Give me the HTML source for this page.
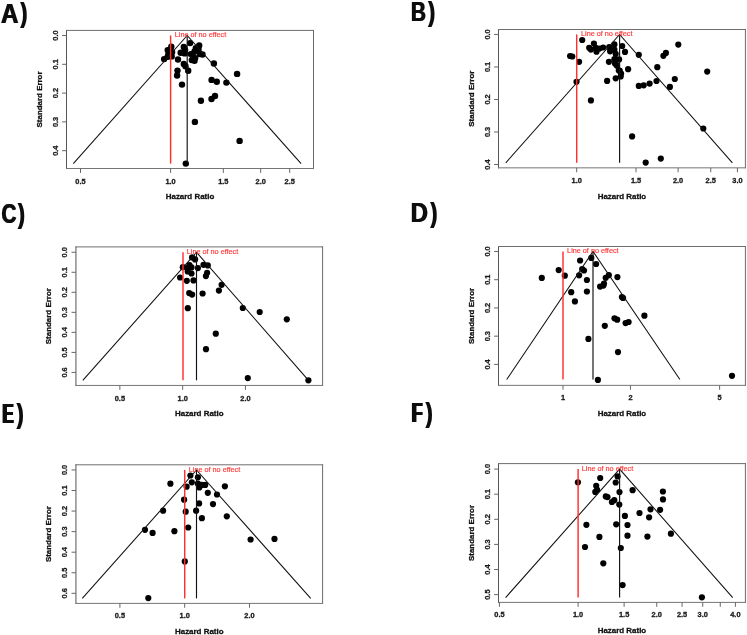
<!DOCTYPE html>
<html><head><meta charset="utf-8"><title>Funnel plots</title>
<style>
html,body{margin:0;padding:0;background:#fff;}
body{width:747px;height:635px;overflow:hidden;font-family:"Liberation Sans",sans-serif;}
svg{display:block;position:absolute;left:0;top:0;}
text{font-family:"Liberation Sans",sans-serif;}
.tl{font-size:7.4px;font-weight:bold;fill:#1a1a1a;stroke:#1a1a1a;stroke-width:0.3px;text-anchor:middle;}
.al{font-size:7.95px;font-weight:bold;fill:#111;stroke:#111;stroke-width:0.3px;text-anchor:middle;}
.rt{font-size:7.25px;fill:#ff3535;stroke:#ff3535;stroke-width:0.15px;}
.pl{font-size:27.2px;font-weight:bold;fill:#0a0a0a;}
</style></head><body>
<svg width="747" height="635" viewBox="0 0 747 635" style="will-change:transform">
<defs><filter id="hb2" x="-10%" y="-10%" width="120%" height="120%"><feMorphology operator="dilate" radius="1 0"/></filter><filter id="hb1" x="-10%" y="-10%" width="120%" height="120%"><feOffset in="SourceGraphic" dx="1" dy="0" result="o"/><feMerge><feMergeNode in="SourceGraphic"/><feMergeNode in="o"/></feMerge></filter></defs>
<rect x="0" y="0" width="747" height="635" fill="#ffffff"/>
<g id="panelA">
<g filter="url(#hb1)"><text class="pl" transform="translate(0.42,23.15) scale(0.887,1)" x="0" y="0">A</text></g>
<g filter="url(#hb1)"><text class="pl" transform="translate(20.1,22.35) scale(0.727,1)" x="0" y="0" style="font-size:28.0px">)</text></g>
<path d="M66.5 29.9V169" fill="none" stroke="#555" stroke-width="1"/>
<path d="M66 30.4H314" fill="none" stroke="#6e6e6e" stroke-width="1"/>
<path d="M313.5 29.9V169" fill="none" stroke="#6a6a6a" stroke-width="1"/>
<path d="M66 168.5H314" fill="none" stroke="#757575" stroke-width="1"/>
<line x1="62.1" y1="35.5" x2="66.5" y2="35.5" stroke="#666" stroke-width="1"/>
<text class="tl" transform="translate(58.2,35.5) rotate(-90)">0.0</text>
<line x1="62.1" y1="64.3" x2="66.5" y2="64.3" stroke="#666" stroke-width="1"/>
<text class="tl" transform="translate(58.2,64.3) rotate(-90)">0.1</text>
<line x1="62.1" y1="93.1" x2="66.5" y2="93.1" stroke="#666" stroke-width="1"/>
<text class="tl" transform="translate(58.2,93.1) rotate(-90)">0.2</text>
<line x1="62.1" y1="121.9" x2="66.5" y2="121.9" stroke="#666" stroke-width="1"/>
<text class="tl" transform="translate(58.2,121.9) rotate(-90)">0.3</text>
<line x1="62.1" y1="150.7" x2="66.5" y2="150.7" stroke="#666" stroke-width="1"/>
<text class="tl" transform="translate(58.2,150.7) rotate(-90)">0.4</text>
<line x1="80.5" y1="168.5" x2="80.5" y2="172.9" stroke="#666" stroke-width="1"/>
<text class="tl" x="80.5" y="183.6">0.5</text>
<line x1="170.6" y1="168.5" x2="170.6" y2="172.9" stroke="#666" stroke-width="1"/>
<text class="tl" x="170.6" y="183.6">1.0</text>
<line x1="223.31" y1="168.5" x2="223.31" y2="172.9" stroke="#666" stroke-width="1"/>
<text class="tl" x="223.31" y="183.6">1.5</text>
<line x1="260.7" y1="168.5" x2="260.7" y2="172.9" stroke="#666" stroke-width="1"/>
<text class="tl" x="260.7" y="183.6">2.0</text>
<line x1="289.71" y1="168.5" x2="289.71" y2="172.9" stroke="#666" stroke-width="1"/>
<text class="tl" x="289.71" y="183.6">2.5</text>
<text class="al" x="190" y="198.7">Hazard Ratio</text>
<text class="al" transform="translate(42.2,99.45) rotate(-90)">Standard Error</text>
<circle cx="171.3" cy="46.7" r="3.2" fill="#000"/>
<circle cx="167.7" cy="50.1" r="3.2" fill="#000"/>
<circle cx="172.1" cy="52.1" r="3.2" fill="#000"/>
<circle cx="168.4" cy="54.1" r="3.2" fill="#000"/>
<circle cx="171.7" cy="56.4" r="3.2" fill="#000"/>
<circle cx="164.1" cy="59.1" r="3.2" fill="#000"/>
<circle cx="167.7" cy="56.8" r="3.2" fill="#000"/>
<circle cx="190.1" cy="43.1" r="3.2" fill="#000"/>
<circle cx="183.8" cy="47" r="3.2" fill="#000"/>
<circle cx="185.1" cy="50.1" r="3.2" fill="#000"/>
<circle cx="180.7" cy="52.8" r="3.2" fill="#000"/>
<circle cx="184.7" cy="53.4" r="3.2" fill="#000"/>
<circle cx="178" cy="59.5" r="3.2" fill="#000"/>
<circle cx="183.8" cy="63.9" r="3.2" fill="#000"/>
<circle cx="185.5" cy="66.2" r="3.2" fill="#000"/>
<circle cx="188.2" cy="70.8" r="3.2" fill="#000"/>
<circle cx="177.5" cy="70.6" r="3.2" fill="#000"/>
<circle cx="177.1" cy="75.5" r="3.2" fill="#000"/>
<circle cx="182" cy="84.6" r="3.2" fill="#000"/>
<circle cx="199.2" cy="45.4" r="3.2" fill="#000"/>
<circle cx="195.8" cy="48.1" r="3.2" fill="#000"/>
<circle cx="198.5" cy="49.4" r="3.2" fill="#000"/>
<circle cx="194.5" cy="51.4" r="3.2" fill="#000"/>
<circle cx="202.5" cy="54.5" r="3.2" fill="#000"/>
<circle cx="199.8" cy="54.1" r="3.2" fill="#000"/>
<circle cx="190.9" cy="54.1" r="3.2" fill="#000"/>
<circle cx="193.2" cy="56.8" r="3.2" fill="#000"/>
<circle cx="195.2" cy="58.1" r="3.2" fill="#000"/>
<circle cx="191.8" cy="60.1" r="3.2" fill="#000"/>
<circle cx="194.5" cy="60.8" r="3.2" fill="#000"/>
<circle cx="213.9" cy="63.5" r="3.2" fill="#000"/>
<circle cx="237.1" cy="73.9" r="3.2" fill="#000"/>
<circle cx="211.6" cy="79.9" r="3.2" fill="#000"/>
<circle cx="216.8" cy="81.8" r="3.2" fill="#000"/>
<circle cx="226.4" cy="82.6" r="3.2" fill="#000"/>
<circle cx="200.9" cy="100.7" r="3.2" fill="#000"/>
<circle cx="211.5" cy="99" r="3.2" fill="#000"/>
<circle cx="215" cy="96" r="3.2" fill="#000"/>
<circle cx="194.9" cy="121.9" r="3.2" fill="#000"/>
<circle cx="239.6" cy="140.9" r="3.2" fill="#000"/>
<circle cx="185.8" cy="163.6" r="3.2" fill="#000"/>
<polyline points="73.3,163.6 187.2,35.5 301.1,163.6" fill="none" stroke="#111" stroke-width="1.05"/>
<line x1="187.2" y1="35.5" x2="187.2" y2="163.6" stroke="#111" stroke-width="1.15"/>
<line x1="170.6" y1="35.5" x2="170.6" y2="163.6" stroke="#ff3030" stroke-width="1.45"/>
<text class="rt" x="174.8" y="37.1">Line of no effect</text>
</g>
<g id="panelB">
<g filter="url(#hb1)"><text class="pl" transform="translate(410.56,21.3) scale(0.759,1)" x="0" y="0">B</text></g>
<g filter="url(#hb1)"><text class="pl" transform="translate(427.8,21.3) scale(0.727,1)" x="0" y="0" style="font-size:28.0px">)</text></g>
<path d="M498.5 29V168.35" fill="none" stroke="#555" stroke-width="1"/>
<path d="M498 29.5H745.9" fill="none" stroke="#6e6e6e" stroke-width="1"/>
<path d="M745.4 29V168.35" fill="none" stroke="#6a6a6a" stroke-width="1"/>
<path d="M498 167.85H745.9" fill="none" stroke="#757575" stroke-width="1"/>
<line x1="494.1" y1="34.45" x2="498.5" y2="34.45" stroke="#666" stroke-width="1"/>
<text class="tl" transform="translate(490.1,34.45) rotate(-90)">0.0</text>
<line x1="494.1" y1="66.96" x2="498.5" y2="66.96" stroke="#666" stroke-width="1"/>
<text class="tl" transform="translate(490.1,66.96) rotate(-90)">0.1</text>
<line x1="494.1" y1="99.47" x2="498.5" y2="99.47" stroke="#666" stroke-width="1"/>
<text class="tl" transform="translate(490.1,99.47) rotate(-90)">0.2</text>
<line x1="494.1" y1="131.98" x2="498.5" y2="131.98" stroke="#666" stroke-width="1"/>
<text class="tl" transform="translate(490.1,131.98) rotate(-90)">0.3</text>
<line x1="494.1" y1="164.49" x2="498.5" y2="164.49" stroke="#666" stroke-width="1"/>
<text class="tl" transform="translate(490.1,164.49) rotate(-90)">0.4</text>
<line x1="576.7" y1="167.85" x2="576.7" y2="172.25" stroke="#666" stroke-width="1"/>
<text class="tl" x="576.7" y="182.9">1.0</text>
<line x1="636.02" y1="167.85" x2="636.02" y2="172.25" stroke="#666" stroke-width="1"/>
<text class="tl" x="636.02" y="182.9">1.5</text>
<line x1="678.1" y1="167.85" x2="678.1" y2="172.25" stroke="#666" stroke-width="1"/>
<text class="tl" x="678.1" y="182.9">2.0</text>
<line x1="710.74" y1="167.85" x2="710.74" y2="172.25" stroke="#666" stroke-width="1"/>
<text class="tl" x="710.74" y="182.9">2.5</text>
<line x1="737.42" y1="167.85" x2="737.42" y2="172.25" stroke="#666" stroke-width="1"/>
<text class="tl" x="737.42" y="182.9">3.0</text>
<text class="al" x="621.95" y="198.5">Hazard Ratio</text>
<text class="al" transform="translate(474.4,98.67) rotate(-90)">Standard Error</text>
<circle cx="582.2" cy="40" r="3.1" fill="#000"/>
<circle cx="593.9" cy="43.5" r="3.1" fill="#000"/>
<circle cx="599.4" cy="48.6" r="3.1" fill="#000"/>
<circle cx="589.2" cy="47.8" r="3.1" fill="#000"/>
<circle cx="590.9" cy="49.6" r="3.1" fill="#000"/>
<circle cx="595.8" cy="47.8" r="3.1" fill="#000"/>
<circle cx="596.5" cy="51.7" r="3.1" fill="#000"/>
<circle cx="603.1" cy="47.5" r="3.1" fill="#000"/>
<circle cx="609.2" cy="47" r="3.1" fill="#000"/>
<circle cx="610.1" cy="51.3" r="3.1" fill="#000"/>
<circle cx="614.4" cy="44.4" r="3.1" fill="#000"/>
<circle cx="614.4" cy="49.6" r="3.1" fill="#000"/>
<circle cx="615.7" cy="53.9" r="3.1" fill="#000"/>
<circle cx="570.1" cy="56" r="3.1" fill="#000"/>
<circle cx="572.3" cy="56.5" r="3.1" fill="#000"/>
<circle cx="579.1" cy="61.8" r="3.1" fill="#000"/>
<circle cx="608.9" cy="61.8" r="3.1" fill="#000"/>
<circle cx="614.4" cy="59.2" r="3.1" fill="#000"/>
<circle cx="615" cy="63.5" r="3.1" fill="#000"/>
<circle cx="617" cy="65.6" r="3.1" fill="#000"/>
<circle cx="618.8" cy="70.5" r="3.1" fill="#000"/>
<circle cx="615.7" cy="78.3" r="3.1" fill="#000"/>
<circle cx="607.1" cy="80.9" r="3.1" fill="#000"/>
<circle cx="576.5" cy="81.8" r="3.1" fill="#000"/>
<circle cx="590.9" cy="100.4" r="3.1" fill="#000"/>
<circle cx="622.2" cy="46" r="3.1" fill="#000"/>
<circle cx="625" cy="51.9" r="3.1" fill="#000"/>
<circle cx="619.1" cy="59.4" r="3.1" fill="#000"/>
<circle cx="616.7" cy="65.3" r="3.1" fill="#000"/>
<circle cx="619.7" cy="70.6" r="3.1" fill="#000"/>
<circle cx="621.1" cy="73.5" r="3.1" fill="#000"/>
<circle cx="620.7" cy="76.5" r="3.1" fill="#000"/>
<circle cx="628.1" cy="69.2" r="3.1" fill="#000"/>
<circle cx="638.8" cy="54.8" r="3.1" fill="#000"/>
<circle cx="678.3" cy="44.6" r="3.1" fill="#000"/>
<circle cx="665.9" cy="52.9" r="3.1" fill="#000"/>
<circle cx="663.4" cy="55.8" r="3.1" fill="#000"/>
<circle cx="657.3" cy="67.2" r="3.1" fill="#000"/>
<circle cx="707.2" cy="71.6" r="3.1" fill="#000"/>
<circle cx="674.8" cy="79" r="3.1" fill="#000"/>
<circle cx="656.5" cy="81" r="3.1" fill="#000"/>
<circle cx="649.6" cy="83.6" r="3.1" fill="#000"/>
<circle cx="643.7" cy="85.3" r="3.1" fill="#000"/>
<circle cx="638.8" cy="85.9" r="3.1" fill="#000"/>
<circle cx="669.9" cy="86.9" r="3.1" fill="#000"/>
<circle cx="703.3" cy="128.5" r="3.1" fill="#000"/>
<circle cx="632.1" cy="136.4" r="3.1" fill="#000"/>
<circle cx="660.8" cy="158.6" r="3.1" fill="#000"/>
<circle cx="645.7" cy="162.6" r="3.1" fill="#000"/>
<polyline points="505.8,162.8 619.6,34.45 732.4,162.8" fill="none" stroke="#111" stroke-width="1.05"/>
<line x1="619.6" y1="34.45" x2="619.6" y2="162.8" stroke="#111" stroke-width="1.15"/>
<line x1="576.7" y1="34.45" x2="576.7" y2="162.8" stroke="#ff3030" stroke-width="1.45"/>
<text class="rt" x="581" y="36">Line of no effect</text>
</g>
<g id="panelC">
<g filter="url(#hb1)"><text class="pl" transform="translate(0.98,223.1) scale(0.758,1)" x="0" y="0">C</text></g>
<g filter="url(#hb1)"><text class="pl" transform="translate(17.4,222.8) scale(0.727,1)" x="0" y="0" style="font-size:28.0px">)</text></g>
<path d="M75.95 246.4V385.95" fill="none" stroke="#555" stroke-width="1"/>
<path d="M75.45 246.9H323.1" fill="none" stroke="#6e6e6e" stroke-width="1"/>
<path d="M322.6 246.4V385.95" fill="none" stroke="#6a6a6a" stroke-width="1"/>
<path d="M75.45 385.45H323.1" fill="none" stroke="#757575" stroke-width="1"/>
<line x1="71.55" y1="252.25" x2="75.95" y2="252.25" stroke="#666" stroke-width="1"/>
<text class="tl" transform="translate(67.3,252.25) rotate(-90)">0.0</text>
<line x1="71.55" y1="272.28" x2="75.95" y2="272.28" stroke="#666" stroke-width="1"/>
<text class="tl" transform="translate(67.3,272.28) rotate(-90)">0.1</text>
<line x1="71.55" y1="292.31" x2="75.95" y2="292.31" stroke="#666" stroke-width="1"/>
<text class="tl" transform="translate(67.3,292.31) rotate(-90)">0.2</text>
<line x1="71.55" y1="312.34" x2="75.95" y2="312.34" stroke="#666" stroke-width="1"/>
<text class="tl" transform="translate(67.3,312.34) rotate(-90)">0.3</text>
<line x1="71.55" y1="332.37" x2="75.95" y2="332.37" stroke="#666" stroke-width="1"/>
<text class="tl" transform="translate(67.3,332.37) rotate(-90)">0.4</text>
<line x1="71.55" y1="352.4" x2="75.95" y2="352.4" stroke="#666" stroke-width="1"/>
<text class="tl" transform="translate(67.3,352.4) rotate(-90)">0.5</text>
<line x1="71.55" y1="372.43" x2="75.95" y2="372.43" stroke="#666" stroke-width="1"/>
<text class="tl" transform="translate(67.3,372.43) rotate(-90)">0.6</text>
<line x1="119.86" y1="385.45" x2="119.86" y2="389.85" stroke="#666" stroke-width="1"/>
<text class="tl" x="119.86" y="400.5">0.5</text>
<line x1="182.66" y1="385.45" x2="182.66" y2="389.85" stroke="#666" stroke-width="1"/>
<text class="tl" x="182.66" y="400.5">1.0</text>
<line x1="245.46" y1="385.45" x2="245.46" y2="389.85" stroke="#666" stroke-width="1"/>
<text class="tl" x="245.46" y="400.5">2.0</text>
<text class="al" x="199.28" y="415.8">Hazard Ratio</text>
<text class="al" transform="translate(51,316.18) rotate(-90)">Standard Error</text>
<circle cx="192.1" cy="257.4" r="3.1" fill="#000"/>
<circle cx="195.1" cy="259.4" r="3.1" fill="#000"/>
<circle cx="203.5" cy="264.8" r="3.1" fill="#000"/>
<circle cx="207.8" cy="265.4" r="3.1" fill="#000"/>
<circle cx="189.5" cy="265" r="3.1" fill="#000"/>
<circle cx="182.8" cy="267.2" r="3.1" fill="#000"/>
<circle cx="187.4" cy="267.8" r="3.1" fill="#000"/>
<circle cx="191.5" cy="267.4" r="3.1" fill="#000"/>
<circle cx="197.9" cy="268.1" r="3.1" fill="#000"/>
<circle cx="187.7" cy="271.5" r="3.1" fill="#000"/>
<circle cx="191.5" cy="273.5" r="3.1" fill="#000"/>
<circle cx="207.1" cy="272.8" r="3.1" fill="#000"/>
<circle cx="205.9" cy="276.1" r="3.1" fill="#000"/>
<circle cx="180.1" cy="277.5" r="3.1" fill="#000"/>
<circle cx="186.8" cy="280.8" r="3.1" fill="#000"/>
<circle cx="193.5" cy="280.4" r="3.1" fill="#000"/>
<circle cx="221.6" cy="284.8" r="3.1" fill="#000"/>
<circle cx="218.9" cy="290.6" r="3.1" fill="#000"/>
<circle cx="189.2" cy="293.1" r="3.1" fill="#000"/>
<circle cx="192.1" cy="294.6" r="3.1" fill="#000"/>
<circle cx="202.6" cy="293.5" r="3.1" fill="#000"/>
<circle cx="187.8" cy="308.2" r="3.1" fill="#000"/>
<circle cx="242.8" cy="308" r="3.1" fill="#000"/>
<circle cx="259.7" cy="312" r="3.1" fill="#000"/>
<circle cx="286.8" cy="319.3" r="3.1" fill="#000"/>
<circle cx="215.8" cy="333.7" r="3.1" fill="#000"/>
<circle cx="206" cy="349.2" r="3.1" fill="#000"/>
<circle cx="247.8" cy="378.1" r="3.1" fill="#000"/>
<circle cx="308.4" cy="380.3" r="3.1" fill="#000"/>
<polyline points="82.8,380.3 196.5,252.25 308.5,380.3" fill="none" stroke="#111" stroke-width="1.05"/>
<line x1="196.5" y1="252.25" x2="196.5" y2="380.3" stroke="#111" stroke-width="1.15"/>
<line x1="183" y1="252.25" x2="183" y2="380.3" stroke="#ff3030" stroke-width="1.45"/>
<text class="rt" x="186.8" y="253.7">Line of no effect</text>
</g>
<g id="panelD">
<g filter="url(#hb1)"><text class="pl" transform="translate(410.37,221.6) scale(0.875,1)" x="0" y="0">D</text></g>
<g filter="url(#hb1)"><text class="pl" transform="translate(429.9,221.6) scale(0.727,1)" x="0" y="0" style="font-size:28.0px">)</text></g>
<path d="M498.5 246V385.85" fill="none" stroke="#555" stroke-width="1"/>
<path d="M498 246.5H745.9" fill="none" stroke="#6e6e6e" stroke-width="1"/>
<path d="M745.4 246V385.85" fill="none" stroke="#6a6a6a" stroke-width="1"/>
<path d="M498 385.35H745.9" fill="none" stroke="#757575" stroke-width="1"/>
<line x1="494.1" y1="251.45" x2="498.5" y2="251.45" stroke="#666" stroke-width="1"/>
<text class="tl" transform="translate(490.2,251.45) rotate(-90)">0.0</text>
<line x1="494.1" y1="279.69" x2="498.5" y2="279.69" stroke="#666" stroke-width="1"/>
<text class="tl" transform="translate(490.2,279.69) rotate(-90)">0.1</text>
<line x1="494.1" y1="307.93" x2="498.5" y2="307.93" stroke="#666" stroke-width="1"/>
<text class="tl" transform="translate(490.2,307.93) rotate(-90)">0.2</text>
<line x1="494.1" y1="336.17" x2="498.5" y2="336.17" stroke="#666" stroke-width="1"/>
<text class="tl" transform="translate(490.2,336.17) rotate(-90)">0.3</text>
<line x1="494.1" y1="364.41" x2="498.5" y2="364.41" stroke="#666" stroke-width="1"/>
<text class="tl" transform="translate(490.2,364.41) rotate(-90)">0.4</text>
<line x1="563" y1="385.35" x2="563" y2="389.75" stroke="#666" stroke-width="1"/>
<text class="tl" x="563" y="400.2">1</text>
<line x1="630.45" y1="385.35" x2="630.45" y2="389.75" stroke="#666" stroke-width="1"/>
<text class="tl" x="630.45" y="400.2">2</text>
<line x1="719.61" y1="385.35" x2="719.61" y2="389.75" stroke="#666" stroke-width="1"/>
<text class="tl" x="719.61" y="400.2">5</text>
<text class="al" x="621.95" y="415.8">Hazard Ratio</text>
<text class="al" transform="translate(473.6,315.93) rotate(-90)">Standard Error</text>
<circle cx="591.3" cy="257.9" r="3.1" fill="#000"/>
<circle cx="580.1" cy="260.5" r="3.1" fill="#000"/>
<circle cx="596.1" cy="264" r="3.1" fill="#000"/>
<circle cx="558.7" cy="270.1" r="3.1" fill="#000"/>
<circle cx="582.2" cy="269.1" r="3.1" fill="#000"/>
<circle cx="584" cy="270.5" r="3.1" fill="#000"/>
<circle cx="564.8" cy="275.7" r="3.1" fill="#000"/>
<circle cx="579.1" cy="275.3" r="3.1" fill="#000"/>
<circle cx="541.8" cy="277.9" r="3.1" fill="#000"/>
<circle cx="608.8" cy="275.2" r="3.1" fill="#000"/>
<circle cx="605.7" cy="277.8" r="3.1" fill="#000"/>
<circle cx="617.4" cy="277.1" r="3.1" fill="#000"/>
<circle cx="586.9" cy="280" r="3.1" fill="#000"/>
<circle cx="604" cy="283.5" r="3.1" fill="#000"/>
<circle cx="603.4" cy="285.6" r="3.1" fill="#000"/>
<circle cx="600.1" cy="286.6" r="3.1" fill="#000"/>
<circle cx="571.2" cy="292.2" r="3.1" fill="#000"/>
<circle cx="586.9" cy="291.5" r="3.1" fill="#000"/>
<circle cx="621.9" cy="297.1" r="3.1" fill="#000"/>
<circle cx="623.1" cy="298" r="3.1" fill="#000"/>
<circle cx="574.9" cy="301.4" r="3.1" fill="#000"/>
<circle cx="644.4" cy="315.7" r="3.1" fill="#000"/>
<circle cx="614.5" cy="318.3" r="3.1" fill="#000"/>
<circle cx="617.2" cy="319.7" r="3.1" fill="#000"/>
<circle cx="628.6" cy="322" r="3.1" fill="#000"/>
<circle cx="625.6" cy="323.1" r="3.1" fill="#000"/>
<circle cx="604.8" cy="325.8" r="3.1" fill="#000"/>
<circle cx="588.4" cy="338.9" r="3.1" fill="#000"/>
<circle cx="618" cy="352.1" r="3.1" fill="#000"/>
<circle cx="597.9" cy="379.9" r="3.1" fill="#000"/>
<circle cx="732" cy="375.8" r="3.1" fill="#000"/>
<polyline points="506.7,379.5 593,251.45 679.9,379.5" fill="none" stroke="#111" stroke-width="1.05"/>
<line x1="593" y1="251.45" x2="593" y2="379.5" stroke="#111" stroke-width="1.15"/>
<line x1="563" y1="251.45" x2="563" y2="379.5" stroke="#ff3030" stroke-width="1.45"/>
<text class="rt" x="567.1" y="253.2">Line of no effect</text>
</g>
<g id="panelE">
<g filter="url(#hb2)"><text class="pl" transform="translate(2.51,422.8) scale(0.606,1)" x="0" y="0">E</text></g>
<g filter="url(#hb1)"><text class="pl" transform="translate(16.3,422.8) scale(0.727,1)" x="0" y="0" style="font-size:28.0px">)</text></g>
<path d="M75.95 464.3V603.9" fill="none" stroke="#555" stroke-width="1"/>
<path d="M75.45 464.8H323.1" fill="none" stroke="#6e6e6e" stroke-width="1"/>
<path d="M322.6 464.3V603.9" fill="none" stroke="#6a6a6a" stroke-width="1"/>
<path d="M75.45 603.4H323.1" fill="none" stroke="#757575" stroke-width="1"/>
<line x1="71.55" y1="469.95" x2="75.95" y2="469.95" stroke="#666" stroke-width="1"/>
<text class="tl" transform="translate(67.3,469.95) rotate(-90)">0.0</text>
<line x1="71.55" y1="490.51" x2="75.95" y2="490.51" stroke="#666" stroke-width="1"/>
<text class="tl" transform="translate(67.3,490.51) rotate(-90)">0.1</text>
<line x1="71.55" y1="511.07" x2="75.95" y2="511.07" stroke="#666" stroke-width="1"/>
<text class="tl" transform="translate(67.3,511.07) rotate(-90)">0.2</text>
<line x1="71.55" y1="531.63" x2="75.95" y2="531.63" stroke="#666" stroke-width="1"/>
<text class="tl" transform="translate(67.3,531.63) rotate(-90)">0.3</text>
<line x1="71.55" y1="552.19" x2="75.95" y2="552.19" stroke="#666" stroke-width="1"/>
<text class="tl" transform="translate(67.3,552.19) rotate(-90)">0.4</text>
<line x1="71.55" y1="572.75" x2="75.95" y2="572.75" stroke="#666" stroke-width="1"/>
<text class="tl" transform="translate(67.3,572.75) rotate(-90)">0.5</text>
<line x1="71.55" y1="593.31" x2="75.95" y2="593.31" stroke="#666" stroke-width="1"/>
<text class="tl" transform="translate(67.3,593.31) rotate(-90)">0.6</text>
<line x1="119.9" y1="603.4" x2="119.9" y2="607.8" stroke="#666" stroke-width="1"/>
<text class="tl" x="119.9" y="618.2">0.5</text>
<line x1="184.7" y1="603.4" x2="184.7" y2="607.8" stroke="#666" stroke-width="1"/>
<text class="tl" x="184.7" y="618.2">1.0</text>
<line x1="249.5" y1="603.4" x2="249.5" y2="607.8" stroke="#666" stroke-width="1"/>
<text class="tl" x="249.5" y="618.2">2.0</text>
<text class="al" x="199.28" y="634.2">Hazard Ratio</text>
<text class="al" transform="translate(51,534.1) rotate(-90)">Standard Error</text>
<circle cx="190.4" cy="475.5" r="3.1" fill="#000"/>
<circle cx="197.9" cy="477.3" r="3.1" fill="#000"/>
<circle cx="191.8" cy="482.3" r="3.1" fill="#000"/>
<circle cx="170.4" cy="483.7" r="3.1" fill="#000"/>
<circle cx="197.9" cy="483.7" r="3.1" fill="#000"/>
<circle cx="201.7" cy="484.9" r="3.1" fill="#000"/>
<circle cx="205.2" cy="484.9" r="3.1" fill="#000"/>
<circle cx="186.6" cy="486.7" r="3.1" fill="#000"/>
<circle cx="199.3" cy="487.5" r="3.1" fill="#000"/>
<circle cx="224.9" cy="486.3" r="3.1" fill="#000"/>
<circle cx="207.8" cy="492.8" r="3.1" fill="#000"/>
<circle cx="217" cy="494.5" r="3.1" fill="#000"/>
<circle cx="184.1" cy="499.7" r="3.1" fill="#000"/>
<circle cx="199.1" cy="503.4" r="3.1" fill="#000"/>
<circle cx="213" cy="504.1" r="3.1" fill="#000"/>
<circle cx="163.1" cy="510.7" r="3.1" fill="#000"/>
<circle cx="185.7" cy="511.7" r="3.1" fill="#000"/>
<circle cx="196.1" cy="510.7" r="3.1" fill="#000"/>
<circle cx="201.9" cy="518.2" r="3.1" fill="#000"/>
<circle cx="226.8" cy="516.3" r="3.1" fill="#000"/>
<circle cx="145" cy="529.8" r="3.1" fill="#000"/>
<circle cx="152.6" cy="532.9" r="3.1" fill="#000"/>
<circle cx="174.4" cy="531.2" r="3.1" fill="#000"/>
<circle cx="188.2" cy="527.5" r="3.1" fill="#000"/>
<circle cx="250.6" cy="539.5" r="3.1" fill="#000"/>
<circle cx="274.5" cy="538.9" r="3.1" fill="#000"/>
<circle cx="184.8" cy="561.4" r="3.1" fill="#000"/>
<circle cx="148.3" cy="598.1" r="3.1" fill="#000"/>
<polyline points="82.3,598.4 196.5,469.95 310.7,598.4" fill="none" stroke="#111" stroke-width="1.05"/>
<line x1="196.5" y1="469.95" x2="196.5" y2="598.4" stroke="#111" stroke-width="1.15"/>
<line x1="184.7" y1="469.95" x2="184.7" y2="598.4" stroke="#ff3030" stroke-width="1.45"/>
<text class="rt" x="188.8" y="471.5">Line of no effect</text>
</g>
<g id="panelF">
<g filter="url(#hb2)"><text class="pl" transform="translate(411.75,421.6) scale(0.643,1)" x="0" y="0">F</text></g>
<g filter="url(#hb1)"><text class="pl" transform="translate(425.2,421.6) scale(0.727,1)" x="0" y="0" style="font-size:28.0px">)</text></g>
<path d="M498.5 463.1V602.9" fill="none" stroke="#555" stroke-width="1"/>
<path d="M498 463.6H745.9" fill="none" stroke="#6e6e6e" stroke-width="1"/>
<path d="M745.4 463.1V602.9" fill="none" stroke="#6a6a6a" stroke-width="1"/>
<path d="M498 602.4H745.9" fill="none" stroke="#757575" stroke-width="1"/>
<line x1="494.1" y1="469.1" x2="498.5" y2="469.1" stroke="#666" stroke-width="1"/>
<text class="tl" transform="translate(490.1,469.1) rotate(-90)">0.0</text>
<line x1="494.1" y1="494.2" x2="498.5" y2="494.2" stroke="#666" stroke-width="1"/>
<text class="tl" transform="translate(490.1,494.2) rotate(-90)">0.1</text>
<line x1="494.1" y1="519.3" x2="498.5" y2="519.3" stroke="#666" stroke-width="1"/>
<text class="tl" transform="translate(490.1,519.3) rotate(-90)">0.2</text>
<line x1="494.1" y1="544.4" x2="498.5" y2="544.4" stroke="#666" stroke-width="1"/>
<text class="tl" transform="translate(490.1,544.4) rotate(-90)">0.3</text>
<line x1="494.1" y1="569.5" x2="498.5" y2="569.5" stroke="#666" stroke-width="1"/>
<text class="tl" transform="translate(490.1,569.5) rotate(-90)">0.4</text>
<line x1="494.1" y1="594.6" x2="498.5" y2="594.6" stroke="#666" stroke-width="1"/>
<text class="tl" transform="translate(490.1,594.6) rotate(-90)">0.5</text>
<line x1="499.45" y1="602.4" x2="499.45" y2="606.8" stroke="#666" stroke-width="1"/>
<text class="tl" x="499.45" y="617">0.5</text>
<line x1="578.1" y1="602.4" x2="578.1" y2="606.8" stroke="#666" stroke-width="1"/>
<text class="tl" x="578.1" y="617">1.0</text>
<line x1="624.11" y1="602.4" x2="624.11" y2="606.8" stroke="#666" stroke-width="1"/>
<text class="tl" x="624.11" y="617">1.5</text>
<line x1="656.75" y1="602.4" x2="656.75" y2="606.8" stroke="#666" stroke-width="1"/>
<text class="tl" x="656.75" y="617">2.0</text>
<line x1="682.07" y1="602.4" x2="682.07" y2="606.8" stroke="#666" stroke-width="1"/>
<text class="tl" x="682.07" y="617">2.5</text>
<line x1="702.76" y1="602.4" x2="702.76" y2="606.8" stroke="#666" stroke-width="1"/>
<text class="tl" x="702.76" y="617">3.0</text>
<line x1="720.25" y1="602.4" x2="720.25" y2="606.8" stroke="#666" stroke-width="1"/>
<line x1="735.4" y1="602.4" x2="735.4" y2="606.8" stroke="#666" stroke-width="1"/>
<text class="tl" x="735.4" y="617">4.0</text>
<text class="al" x="621.95" y="632.8">Hazard Ratio</text>
<text class="al" transform="translate(473.5,533) rotate(-90)">Standard Error</text>
<circle cx="600.2" cy="478" r="3.1" fill="#000"/>
<circle cx="617.6" cy="476.4" r="3.1" fill="#000"/>
<circle cx="577.9" cy="482.3" r="3.1" fill="#000"/>
<circle cx="615.7" cy="482.5" r="3.1" fill="#000"/>
<circle cx="596.2" cy="485.8" r="3.1" fill="#000"/>
<circle cx="595.3" cy="491.9" r="3.1" fill="#000"/>
<circle cx="597.1" cy="489.8" r="3.1" fill="#000"/>
<circle cx="619.5" cy="492.1" r="3.1" fill="#000"/>
<circle cx="632.6" cy="490.2" r="3.1" fill="#000"/>
<circle cx="662.9" cy="491.5" r="3.1" fill="#000"/>
<circle cx="605.8" cy="496.4" r="3.1" fill="#000"/>
<circle cx="607.5" cy="497.1" r="3.1" fill="#000"/>
<circle cx="663" cy="499.4" r="3.1" fill="#000"/>
<circle cx="614.3" cy="500.2" r="3.1" fill="#000"/>
<circle cx="611.9" cy="502" r="3.1" fill="#000"/>
<circle cx="619.3" cy="504.6" r="3.1" fill="#000"/>
<circle cx="650.5" cy="509.3" r="3.1" fill="#000"/>
<circle cx="660.1" cy="509.8" r="3.1" fill="#000"/>
<circle cx="639.5" cy="513" r="3.1" fill="#000"/>
<circle cx="624.9" cy="515.9" r="3.1" fill="#000"/>
<circle cx="649.1" cy="517.3" r="3.1" fill="#000"/>
<circle cx="586.4" cy="524.8" r="3.1" fill="#000"/>
<circle cx="616.2" cy="524.3" r="3.1" fill="#000"/>
<circle cx="627.5" cy="525" r="3.1" fill="#000"/>
<circle cx="670.9" cy="533.7" r="3.1" fill="#000"/>
<circle cx="599.4" cy="536.9" r="3.1" fill="#000"/>
<circle cx="627.5" cy="535.7" r="3.1" fill="#000"/>
<circle cx="647.4" cy="536.6" r="3.1" fill="#000"/>
<circle cx="585" cy="547" r="3.1" fill="#000"/>
<circle cx="620.8" cy="548" r="3.1" fill="#000"/>
<circle cx="603.3" cy="563.3" r="3.1" fill="#000"/>
<circle cx="622.6" cy="585.1" r="3.1" fill="#000"/>
<circle cx="701.9" cy="597.3" r="3.1" fill="#000"/>
<polyline points="505.6,597.6 619.6,469.1 732.7,597.6" fill="none" stroke="#111" stroke-width="1.05"/>
<line x1="619.6" y1="469.1" x2="619.6" y2="597.6" stroke="#111" stroke-width="1.15"/>
<line x1="578.1" y1="469.1" x2="578.1" y2="597.6" stroke="#ff3030" stroke-width="1.45"/>
<text class="rt" x="581.8" y="470.7">Line of no effect</text>
</g>
</svg></body></html>
